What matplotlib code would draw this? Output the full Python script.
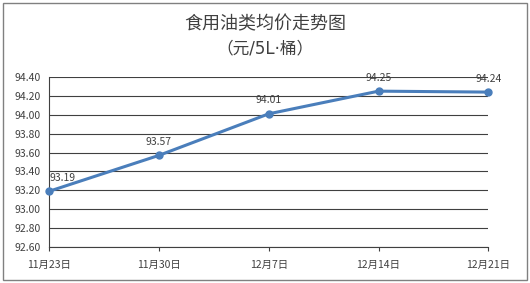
import matplotlib
matplotlib.use('Agg')
import matplotlib.pyplot as plt
from matplotlib.patches import Rectangle

plt.rcParams['font.family'] = ['Noto Sans CJK SC', 'DejaVu Sans']

dates = ['11月23日', '11月30日', '12月7日', '12月14日', '12月21日']
prices = [93.19, 93.57, 94.01, 94.25, 94.24]
yticks = [92.60, 92.80, 93.00, 93.20, 93.40, 93.60, 93.80, 94.00, 94.20, 94.40]

fig = plt.figure(figsize=(5.3, 2.83), dpi=100)
ax = fig.add_axes([0.0925, 0.127, 0.829, 0.601])

ax.plot(range(len(dates)), prices, color='#4a7ebb', linewidth=2.2,
        marker='o', markersize=5, zorder=3, clip_on=False)

for i, v in enumerate(prices):
    ha = 'left' if i == 0 else 'center'
    ax.annotate(f'{v:.2f}', (i, v), xytext=(0, 6), textcoords='offset points',
                ha=ha, va='bottom', fontsize=7.5, color='#404040')

ax.set_xlim(0, len(dates) - 1)
ax.set_ylim(92.6, 94.4)
ax.set_yticks(yticks)
ax.set_yticklabels([f'{t:.2f}' for t in yticks])
ax.set_xticks(range(len(dates)))
ax.set_xticklabels(dates)
ax.grid(axis='y', color='#404040', linewidth=0.8)
ax.set_axisbelow(True)
for s in ['top', 'right']:
    ax.spines[s].set_visible(False)
for s in ['left', 'bottom']:
    ax.spines[s].set_color('#404040')
    ax.spines[s].set_linewidth(0.8)
ax.tick_params(axis='y', length=0, labelsize=7.5, colors='#404040', pad=6)
ax.tick_params(axis='x', length=3, direction='out', labelsize=7.5,
               colors='#404040', pad=6)

fig.text(0.5, 0.915, '食用油类均价走势图', ha='center', va='center',
         fontsize=13, color='#404040')
fig.text(0.5, 0.83, '（元/5L·桶）', ha='center', va='center',
         fontsize=12, color='#404040',
         family=['DejaVu Sans', 'Noto Sans CJK SC'])

fig.patches.append(Rectangle((0.006, 0.011), 0.988, 0.978, transform=fig.transFigure,
                             fill=False, edgecolor='#808080', linewidth=1))

fig.savefig('out.png', dpi=100)
